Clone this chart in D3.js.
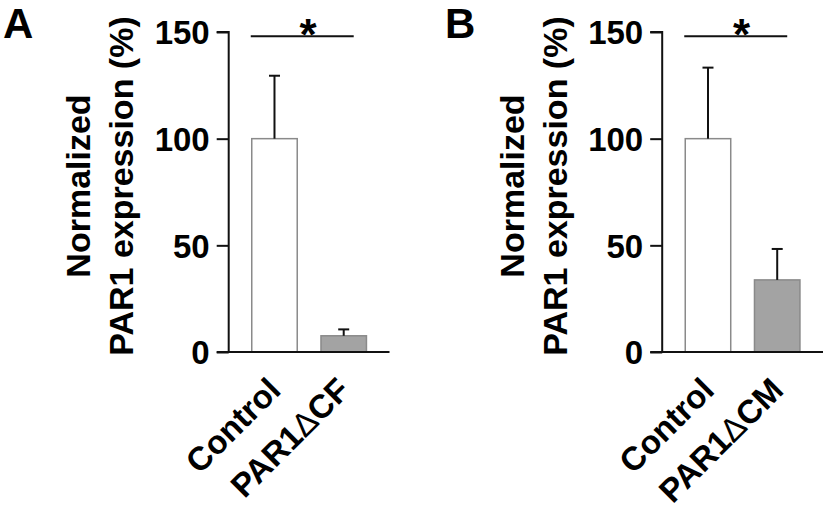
<!DOCTYPE html>
<html>
<head>
<meta charset="utf-8">
<script src="https://cdn.jsdelivr.net/npm/d3@7/dist/d3.min.js"></script>
<style>
  html, body { margin: 0; padding: 0; background: #fff; }
  svg { display: block; }
  text { font-family: "Liberation Sans", Arial, Helvetica, sans-serif; font-weight: bold; fill: #000; }
</style>
</head>
<body>
<svg id="chart" width="825" height="518"></svg>
<script>
// ---- data ----
const panelLetters = ["A", "B"];
const categoriesA = ["Control", "PAR1|Δ|CF"];
const valuesA = [100, 7.6];
const errorsA = [29.5, 3.0];
const categoriesB = ["Control", "PAR1|Δ|CM"];
const valuesB = [100, 33.8];
const errorsB = [33.3, 14.5];
const yTicks = [0, 50, 100, 150];
const yLabelLines = ["Normalized", "PAR1 expression (%)"];
const sigLabel = "*";
const barFills = ["#ffffff", "#a3a3a3"];

// ---- layout ----
const svg = d3.select("#chart");
const yTop = 32, yBottom = 352;
const y = d3.scaleLinear().domain([0, 150]).range([yBottom, yTop]);

const panels = [
  { letter: panelLetters[0], cats: categoriesA, vals: valuesA, errs: errorsA, axisX: 228.7, letterX: 3 },
  { letter: panelLetters[1], cats: categoriesB, vals: valuesB, errs: errorsB, axisX: 662.2, letterX: 445 }
];

panels.forEach(p => {
  const g = svg.append("g");
  const x = d3.scaleBand()
    .domain(p.cats)
    .range([p.axisX, p.axisX + 160.8])
    .paddingInner(0.343)
    .paddingOuter(0.333);

  // panel letter
  g.append("text").attr("x", p.letterX).attr("y", 38)
    .style("font-size", "42px").text(p.letter);

  // y axis
  const yAxis = d3.axisLeft(y).tickValues(yTicks).tickSize(12).tickPadding(7).tickFormat(d3.format("d"));
  const ya = g.append("g").attr("transform", `translate(${p.axisX},0)`).call(yAxis);
  ya.select(".domain").attr("stroke", "#111").attr("stroke-width", 2).attr("d", `M-12,${yTop}H0V${yBottom}`);
  ya.selectAll(".tick line").attr("stroke", "#111").attr("stroke-width", 2);
  ya.selectAll(".tick text")
    .style("font-size", "33px").style("font-family", '"Liberation Sans", Arial, sans-serif')
    .style("font-weight", "bold").attr("fill", "#000").attr("dy", "0.36em");

  // bars
  g.selectAll("rect.bar").data(p.cats).enter().append("rect")
    .attr("class", "bar")
    .attr("x", d => x(d))
    .attr("width", x.bandwidth())
    .attr("y", (d, i) => y(p.vals[i]))
    .attr("height", (d, i) => y(0) - y(p.vals[i]))
    .attr("fill", (d, i) => barFills[i])
    .attr("stroke", "#8a8a8a").attr("stroke-width", 1.5);

  // error bars (upper whisker only)
  p.cats.forEach((c, i) => {
    const cx = x(c) + x.bandwidth() / 2;
    g.append("line").attr("x1", cx).attr("x2", cx)
      .attr("y1", y(p.vals[i])).attr("y2", y(p.vals[i] + p.errs[i]))
      .attr("stroke", "#111").attr("stroke-width", 2);
    g.append("line").attr("x1", cx - 5.5).attr("x2", cx + 5.5)
      .attr("y1", y(p.vals[i] + p.errs[i])).attr("y2", y(p.vals[i] + p.errs[i]))
      .attr("stroke", "#111").attr("stroke-width", 2);
  });

  // x axis baseline
  g.append("line").attr("x1", p.axisX - 12).attr("x2", p.axisX + 160.8)
    .attr("y1", y(0)).attr("y2", y(0)).attr("stroke", "#111").attr("stroke-width", 2);

  // category labels
  p.cats.forEach((c, i) => {
    const cx = x(c) + x.bandwidth() / 2 + 8;
    const t = g.append("text")
      .attr("transform", `translate(${cx},392) rotate(-45)`)
      .attr("text-anchor", "end")
      .style("font-size", "33px");
    c.split("|").forEach((part, k) => {
      const ts = t.append("tspan").text(part);
      if (part === "Δ") ts.style("font-weight", "normal");
    });
  });

  // significance bar
  const x0 = x(p.cats[0]) - 1, x1 = x(p.cats[1]) + x.bandwidth() * 0.72;
  g.append("line").attr("x1", x0).attr("x2", x1).attr("y1", 36.3).attr("y2", 36.3)
    .attr("stroke", "#111").attr("stroke-width", 2);
  g.append("text").attr("x", (x(p.cats[0]) + x(p.cats[1]) + x.bandwidth()) / 2 - 1).attr("y", 50)
    .attr("text-anchor", "middle").style("font-size", "44px").text(sigLabel);

  // y label
  const lblX = [90, 133];
  yLabelLines.forEach((line, k) => {
    g.append("text")
      .attr("transform", `translate(${p.axisX - 228.7 + lblX[k]},186) rotate(-90)`)
      .attr("text-anchor", "middle")
      .style("font-size", "34px").text(line);
  });
});
</script>
</body>
</html>
